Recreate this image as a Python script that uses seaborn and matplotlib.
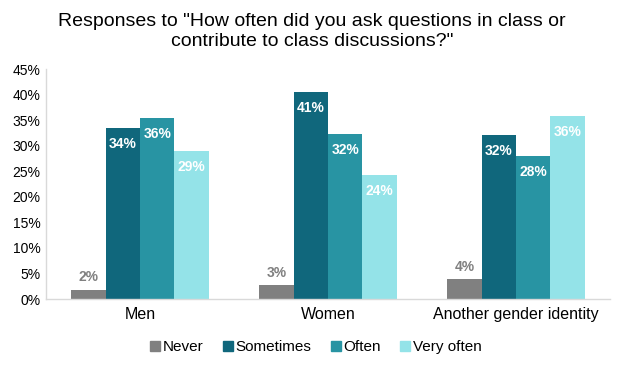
import pandas as pd
import numpy as np
import matplotlib.pyplot as plt
import seaborn as sns
from matplotlib.lines import Line2D

# Data (percent)
groups = ['Men', 'Women', 'Another gender identity']
responses = ['Never', 'Sometimes', 'Often', 'Very often']
never = [1.8, 2.7, 3.9]
sometimes = [33.5, 40.5, 32.0]
often = [35.4, 32.3, 28.0]
very_often = [29.0, 24.3, 35.9]
labels = {
    'Never': ['2%', '3%', '4%'],
    'Sometimes': ['34%', '41%', '32%'],
    'Often': ['36%', '32%', '28%'],
    'Very often': ['29%', '24%', '36%'],
}
colors = ['#808080', '#10677c', '#2894a3', '#94e3e8']

rows = []
for resp, vals in zip(responses, [never, sometimes, often, very_often]):
    for g, v in zip(groups, vals):
        rows.append({'group': g, 'response': resp, 'pct': v})
df = pd.DataFrame(rows)

sns.set_style('white')
plt.rcParams['font.family'] = ['Liberation Sans', 'DejaVu Sans']
plt.rcParams['text.color'] = 'black'
plt.rcParams['xtick.color'] = 'black'
plt.rcParams['ytick.color'] = 'black'

fig = plt.figure(figsize=(6.24, 3.69), dpi=100)
ax = fig.add_axes([0.0737, 0.1897, 0.904, 0.6233])

sns.barplot(data=df, x='group', y='pct', hue='response', order=groups,
            hue_order=responses, palette=colors, width=0.73, saturation=1,
            linewidth=0, legend=False, ax=ax)

ax.set_ylim(0, 45)
ax.set_xlim(-0.5, 2.5)
ax.set_yticks(np.arange(0, 46, 5))
ax.set_yticklabels([f'{t}%' for t in range(0, 46, 5)], fontsize=10)
ax.tick_params(axis='x', labelsize=11.5, length=0, pad=6)
ax.tick_params(axis='y', length=0, pad=4)
ax.set_xlabel('')
ax.set_ylabel('')
for s in ['top', 'right']:
    ax.spines[s].set_visible(False)
for s in ['left', 'bottom']:
    ax.spines[s].set_color('#d9d9d9')
    ax.spines[s].set_linewidth(1)

# value labels
for container, resp in zip(ax.containers, responses):
    for bar, lab in zip(container, labels[resp]):
        x = bar.get_x() + bar.get_width() / 2
        h = bar.get_height()
        if resp == 'Never':
            ax.annotate(lab, (x, h), xytext=(0, 4), textcoords='offset points',
                        ha='center', va='bottom', color='#808080',
                        fontsize=10, fontweight='bold')
        else:
            ax.annotate(lab, (x, h), xytext=(0, -6.5), textcoords='offset points',
                        ha='center', va='top', color='white',
                        fontsize=10, fontweight='bold')

fig.text(0.5, 0.915, 'Responses to "How often did you ask questions in class or\ncontribute to class discussions?"',
         ha='center', va='center', fontsize=14, linespacing=1.2)

handles = [Line2D([0], [0], marker='s', color='none', markerfacecolor=c,
                  markeredgecolor=c, markersize=7.5) for c in colors]
fig.legend(handles, responses, loc='center', bbox_to_anchor=(0.505, 0.06),
           ncol=4, frameon=False, fontsize=11, handletextpad=0.1,
           columnspacing=1.2, handlelength=0.8)

fig.savefig('out.png', dpi=100)
